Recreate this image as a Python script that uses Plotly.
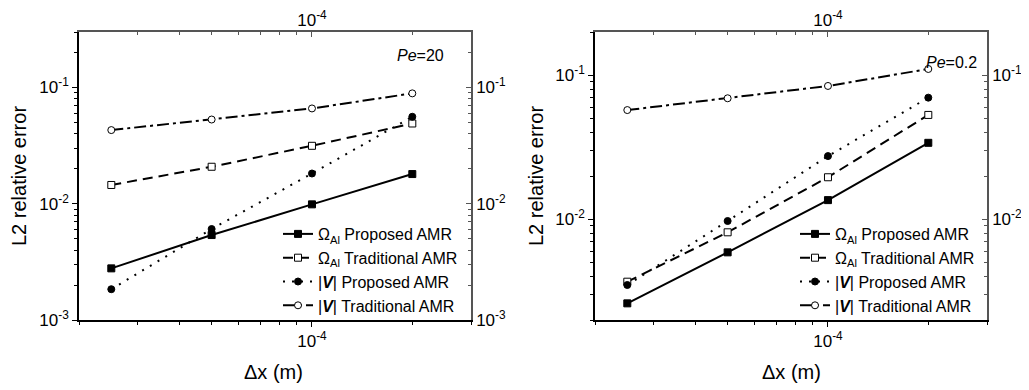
import math
import plotly.graph_objects as go

# ---- data ----
dx = [2.5e-5, 5e-5, 1e-4, 2e-4]

pe20_omega_proposed = [0.00278, 0.00538, 0.00988, 0.0180]
pe20_omega_traditional = [0.0145, 0.0208, 0.0315, 0.0490]
pe20_v_proposed = [0.00184, 0.00606, 0.0182, 0.0560]
pe20_v_traditional = [0.0430, 0.0530, 0.0660, 0.0890]

pe02_omega_proposed = [0.00261, 0.00590, 0.0136, 0.0340]
pe02_omega_traditional = [0.00369, 0.00813, 0.0196, 0.0531]
pe02_v_proposed = [0.00350, 0.00974, 0.0275, 0.0700]
pe02_v_traditional = [0.0574, 0.0693, 0.0844, 0.1107]

series_names = [
    "Ω<sub>Al</sub> Proposed AMR",
    "Ω<sub>Al</sub> Traditional AMR",
    "|<b><i>V</i></b>| Proposed AMR",
    "|<b><i>V</i></b>| Traditional AMR",
]
panel_labels = ["<i>Pe</i>=20", "<i>Pe</i>=0.2"]

x_major = [1e-4]
x_major_text = ["10<sup>-4</sup>"]
y_major = [1e-3, 1e-2, 1e-1]
y_major_text = ["10<sup>-3</sup>", "10<sup>-2</sup>", "10<sup>-1</sup>"]

FONT = "Liberation Sans, Arial, sans-serif"

styles = [
    dict(dash="solid", symbol="square", fill="black"),
    dict(dash="10px,6px", symbol="square", fill="white"),
    dict(dash="2px,7px", symbol="circle", fill="black"),
    dict(dash="12px,4px,3px,4px", symbol="circle", fill="white"),
]

fig = go.Figure()

panels = [
    ([pe20_omega_proposed, pe20_omega_traditional, pe20_v_proposed, pe20_v_traditional],
     "x", "y", "x3", "y3", "legend"),
    ([pe02_omega_proposed, pe02_omega_traditional, pe02_v_proposed, pe02_v_traditional],
     "x2", "y2", "x4", "y4", "legend2"),
]
for data, xa, ya, xm, ym, lg in panels:
    for vals, name, st in zip(data, series_names, styles):
        fig.add_trace(go.Scatter(
            x=dx, y=vals, name=name, xaxis=xa, yaxis=ya, legend=lg,
            mode="lines+markers",
            line=dict(color="black", width=2, dash=st["dash"]),
            marker=dict(symbol=st["symbol"], size=7, color=st["fill"],
                        line=dict(color="black", width=1)),
        ))
    # invisible carrier so that the mirrored (top / right) axes are drawn
    fig.add_trace(go.Scatter(
        x=dx, y=data[0], xaxis=xm, yaxis=ym, mode="markers",
        marker=dict(opacity=0), showlegend=False, hoverinfo="skip",
    ))

def minor_vals(lo, hi):
    out = []
    e = math.floor(math.log10(lo)) - 1
    while 10 ** e <= hi * 1.0001:
        for m in range(2, 10):
            v = m * 10 ** e
            if lo * 0.9999 <= v <= hi * 1.0001:
                out.append(v)
        e += 1
    return out

x_lo, x_hi = 2e-5, 3e-4
y1_lo, y1_hi = 1e-3, 0.3
y2_lo, y2_hi = 2e-3, 0.2

tickfont = dict(family=FONT, size=17, color="black")

def axis(rng, major, major_text, lo, hi, color, tickdir="outside", **kw):
    d = dict(
        type="log", range=[math.log10(rng[0]), math.log10(rng[1])],
        autorange=False, automargin=False,
        tickmode="array", tickvals=major, ticktext=major_text,
        ticks=tickdir, ticklen=5, tickwidth=1, tickcolor=color,
        minor=dict(tickmode="array", tickvals=minor_vals(lo, hi), ticks=tickdir,
                   ticklen=3, tickwidth=1, tickcolor=color),
        showline=True, linecolor=color, linewidth=1.5,
        showgrid=False, zeroline=False, tickfont=tickfont,
    )
    d.update(kw)
    return d

d1 = [0, 392 / 908]
d2 = [516 / 908, 1]

legend_common = dict(xanchor="left", yanchor="top", bgcolor="rgba(0,0,0,0)",
                     font=dict(family=FONT, size=16, color="black"),
                     tracegroupgap=0, itemwidth=30)

MIR = "#555555"
# page body adds an 8px offset; the figure is sized so the plot lands where the reference has it
fig.update_layout(
    width=1021, height=382,
    template="none",
    margin=dict(l=71, r=42, t=24, b=70),
    paper_bgcolor="white", plot_bgcolor="white",
    font=dict(family=FONT, color="black"),
    xaxis=axis((x_lo, x_hi), x_major, x_major_text, x_lo, x_hi, "black", domain=d1, anchor="y"),
    yaxis=axis((y1_lo, y1_hi), y_major, y_major_text, y1_lo, y1_hi, "black", domain=[0, 1], anchor="x"),
    xaxis3=axis((x_lo, x_hi), x_major, x_major_text, x_lo, x_hi, MIR, "inside",
                overlaying="x", side="top", anchor="y", ticklabelstandoff=-3),
    yaxis3=axis((y1_lo, y1_hi), y_major, y_major_text, y1_lo, y1_hi, MIR, "inside",
                overlaying="y", side="right", anchor="x"),
    xaxis2=axis((x_lo, x_hi), x_major, x_major_text, x_lo, x_hi, "black", domain=d2, anchor="y2"),
    yaxis2=axis((y2_lo, y2_hi), y_major, y_major_text, y2_lo, y2_hi, "black", domain=[0, 1], anchor="x2"),
    xaxis4=axis((x_lo, x_hi), x_major, x_major_text, x_lo, x_hi, MIR, "inside",
                overlaying="x2", side="top", anchor="y2", ticklabelstandoff=-3),
    yaxis4=axis((y2_lo, y2_hi), y_major, y_major_text, y2_lo, y2_hi, MIR, "inside",
                overlaying="y2", side="right", anchor="x2"),
    legend=dict(x=(278 - 79) / 908, y=(320 - 217) / 288, **legend_common),
    legend2=dict(x=(795 - 79) / 908, y=(320 - 217) / 288, **legend_common),
    showlegend=True,
)

titlefont = dict(family=FONT, size=20, color="black")
annos = [
    dict(text="L2 relative error", x=(19 - 79) / 908, y=0.5, textangle=-90),
    dict(text="L2 relative error", x=(536 - 79) / 908, y=0.5, textangle=-90),
    dict(text="Δx (m)", x=(273 - 79) / 908, y=(320 - 372) / 288),
    dict(text="Δx (m)", x=(791 - 79) / 908, y=(320 - 372) / 288),
]
for a in annos:
    fig.add_annotation(xref="paper", yref="paper", showarrow=False,
                       xanchor="center", yanchor="middle", font=titlefont, **a)

fig.add_annotation(xref="paper", yref="paper", showarrow=False, text=panel_labels[0],
                   x=(420 - 79) / 908, y=(320 - 55) / 288, xanchor="center", yanchor="middle",
                   font=dict(family=FONT, size=16, color="black"))
fig.add_annotation(xref="paper", yref="paper", showarrow=False, text=panel_labels[1],
                   x=(951 - 79) / 908, y=(320 - 63) / 288, xanchor="center", yanchor="middle",
                   font=dict(family=FONT, size=16, color="black"))

fig.write_html("out.html")
